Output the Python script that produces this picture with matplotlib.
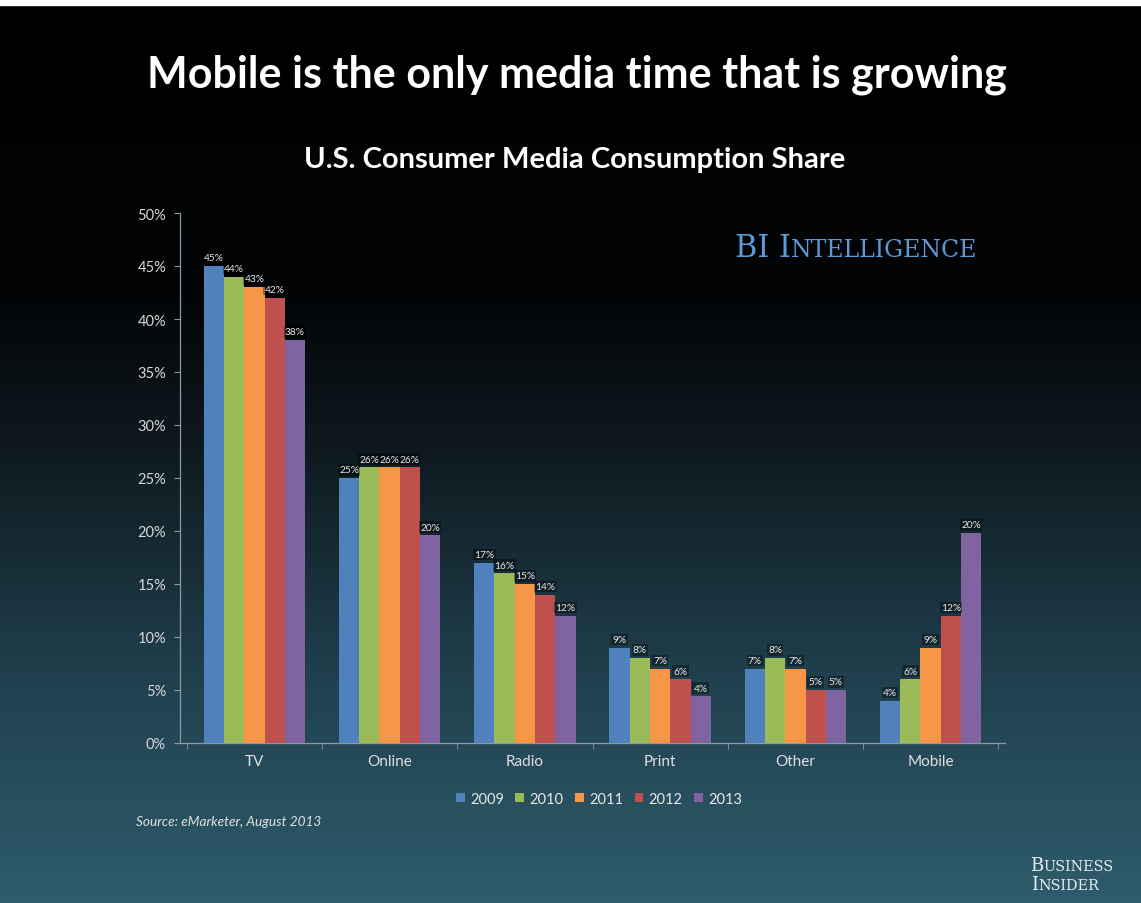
import numpy as np
import matplotlib
matplotlib.use("Agg")
import matplotlib.pyplot as plt
from matplotlib.colors import LinearSegmentedColormap
from matplotlib.patches import Rectangle

categories = ["TV", "Online", "Radio", "Print", "Other", "Mobile"]
years = ["2009", "2010", "2011", "2012", "2013"]
share_2009 = [45, 25, 17, 9, 7, 4]
share_2010 = [44, 26, 16, 8, 8, 6]
share_2011 = [43, 26, 15, 7, 7, 9]
share_2012 = [42, 26, 14, 6, 5, 12]
share_2013 = [38, 19.6, 12, 4.4, 5, 19.8]
series = [share_2009, share_2010, share_2011, share_2012, share_2013]
colors = ["#4f81bd", "#9bbb59", "#f79646", "#c0504d", "#8064a2"]
yticks = [0, 5, 10, 15, 20, 25, 30, 35, 40, 45, 50]

plt.rcParams["font.family"] = ["Lato", "DejaVu Sans"]

W, H = 1141, 904
fig = plt.figure(figsize=(W / 100, H / 100), dpi=100)
renderer = fig.canvas.get_renderer()


def small_caps(x0, y0, parts, color, family="DejaVu Serif"):
    # parts: list of (text, fontsize); drawn left to right on a shared baseline
    xx = x0
    for txt, fs in parts:
        t = fig.text(xx / W, 1 - y0 / H, txt, ha="left", va="baseline",
                     fontsize=fs, color=color, family=family)
        bb = t.get_window_extent(renderer)
        xx += bb.width


# background gradient: black at top fading into teal at the bottom
bg = fig.add_axes([0, 0, 1, 1], zorder=-10)
cmap = LinearSegmentedColormap.from_list(
    "bg", [(0.0, "#2e5c6c"), (0.25, "#20404d"), (0.5, "#0e1a20"),
           (0.68, "#020405"), (1.0, "#000000")])
grad = np.linspace(0, 1, 256).reshape(-1, 1)
bg.imshow(grad, aspect="auto", cmap=cmap, origin="lower", extent=(0, 1, 0, 1))
bg.add_patch(Rectangle((0, 1 - 6 / H), 1, 6 / H, color="white", zorder=2))
bg.set_xlim(0, 1)
bg.set_ylim(0, 1)
bg.axis("off")

ax = fig.add_axes([180 / W, 1 - 744 / H, 825 / W, 530 / H])
ax.set_facecolor("none")

n = len(series)
x = np.arange(len(categories))
w = 0.15
for i, (vals, c, yr) in enumerate(zip(series, colors, years)):
    pos = x + (i - (n - 1) / 2) * w
    ax.bar(pos, vals, w, color=c, label=yr, zorder=3)
    for px, v in zip(pos, vals):
        ax.text(px, v + 0.35, f"{round(v):d}%", ha="center", va="bottom",
                fontsize=7.3, color="#e8e8e8", zorder=4,
                bbox=dict(boxstyle="square,pad=0.12", fc="#000000",
                          ec="none", alpha=0.35))

ax.set_xlim(-0.55, len(categories) - 0.45)
ax.set_ylim(0, 50)
ax.set_yticks(yticks)
ax.set_yticklabels([f"{t}%" for t in yticks])
ax.set_xticks(x)
ax.set_xticklabels(categories)
ax.set_xticks(np.arange(len(categories) + 1) - 0.5, minor=True)
ax.tick_params(axis="x", which="major", length=0, pad=8, labelsize=11,
               labelcolor="#e0e0e0")
ax.tick_params(axis="x", which="minor", length=4, color="#8a9aa0")
ax.tick_params(axis="y", length=4, color="#8a9aa0", labelsize=10.5,
               labelcolor="#d8d8d8", pad=6)
for s in ["top", "right"]:
    ax.spines[s].set_visible(False)
for s in ["left", "bottom"]:
    ax.spines[s].set_color("#8a9aa0")
    ax.spines[s].set_linewidth(0.9)

leg = fig.legend(loc="center", bbox_to_anchor=(599 / W, 1 - 800 / H),
                 ncol=5, frameon=False, fontsize=10.5, handlelength=0.6,
                 handleheight=0.6, handletextpad=0.35, columnspacing=0.8)
for t in leg.get_texts():
    t.set_color("#e8e8e8")

fig.text(577 / W, 1 - 75 / H, "Mobile is the only media time that is growing",
         ha="center", va="center", fontsize=31, fontweight="bold",
         color="white")
fig.text(575 / W, 1 - 160 / H, "U.S. Consumer Media Consumption Share",
         ha="center", va="center", fontsize=21, fontweight="bold",
         color="white")
small_caps(735, 257, [("BI I", 22), ("NTELLIGENCE", 17)], "#5d9ad6")
fig.text(136 / W, 1 - 822 / H, "Source: eMarketer, August 2013",
         ha="left", va="center", fontsize=9.8, style="italic",
         color="#e0e0e0")
small_caps(1030, 871, [("B", 13), ("USINESS", 10.4)], "#e8eef0")
small_caps(1031, 890, [("I", 13), ("NSIDER", 10.4)], "#e8eef0")

fig.savefig("out.png", dpi=100, facecolor="black")
